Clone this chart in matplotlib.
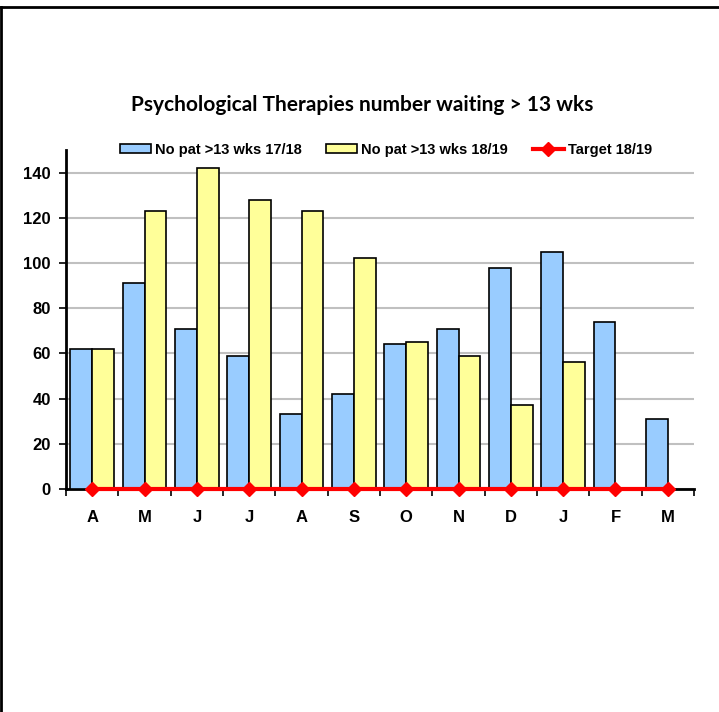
import matplotlib
matplotlib.use("Agg")
import matplotlib.pyplot as plt
from matplotlib import font_manager
from matplotlib.patches import Patch
from matplotlib.lines import Line2D
import numpy as np

months = ["A", "M", "J", "J", "A", "S", "O", "N", "D", "J", "F", "M"]
wait_1718 = [62, 91, 71, 59, 33, 42, 64, 71, 98, 105, 74, 31]
wait_1819 = [62, 123, 142, 128, 123, 102, 65, 59, 37, 56, np.nan, np.nan]
target_1819 = [0, 0, 0, 0, 0, 0, 0, 0, 0, 0, 0, 0]
yticks = [0, 20, 40, 60, 80, 100, 120, 140]

names = {f.name for f in font_manager.fontManager.ttflist}
narrow = "Liberation Sans Narrow" if "Liberation Sans Narrow" in names else "Liberation Sans"
title_font = "Lato" if "Lato" in names else "DejaVu Sans"

fig = plt.figure(figsize=(7.19, 7.12), dpi=100)
ax = fig.add_axes([66/719, 1-489/712, (694-66)/719, (489-150)/712])

x = np.arange(len(months))
w = 0.42
ax.bar(x - w/2, wait_1718, w, color="#99ccff", edgecolor="black", linewidth=1.2, zorder=3)
ax.bar(x + w/2, wait_1819, w, color="#ffff99", edgecolor="black", linewidth=1.2, zorder=3)
ax.plot(x, target_1819, color="#ff0000", lw=3, marker="D", markersize=7, zorder=5, clip_on=False)

ax.set_xlim(-0.5, len(months) - 0.5)
ax.set_ylim(0, 150)
ax.set_yticks(yticks)
ax.set_yticklabels([str(v) for v in yticks], fontfamily=narrow, fontweight="bold", fontsize=12)
ax.yaxis.grid(True, color="#c0c0c0", lw=1.5, zorder=0)
ax.set_axisbelow(True)

ax.set_xticks(x)
ax.set_xticklabels(months, fontfamily=narrow, fontweight="bold", fontsize=12)
ax.set_xticks(np.arange(-0.5, len(months)), minor=True)
ax.tick_params(axis="x", which="major", length=0, pad=15)
ax.tick_params(axis="x", which="minor", length=5, width=1.2, direction="out")
ax.tick_params(axis="y", length=5, width=1.2, direction="out", pad=6)

for s in ["top", "right"]:
    ax.spines[s].set_visible(False)
ax.spines["left"].set_linewidth(2)
ax.spines["bottom"].set_linewidth(2)

fig.text(362/719, 1-105/712, "Psychological Therapies number waiting > 13 wks",
         ha="center", va="center", fontfamily=title_font, fontweight="bold", fontsize=15)

handles = [Patch(facecolor="#99ccff", edgecolor="black", linewidth=1.2),
           Patch(facecolor="#ffff99", edgecolor="black", linewidth=1.2),
           Line2D([0], [0], color="#ff0000", lw=3, marker="D", markersize=7)]
labels = ["No pat >13 wks 17/18", "No pat >13 wks 18/19", "Target 18/19"]
fig.legend(handles, labels, loc="center", bbox_to_anchor=(386/719, 1-150/712), ncol=3,
           frameon=False, prop={"family": narrow, "weight": "bold", "size": 10.5},
           handlelength=2.1, handleheight=0.6, handletextpad=0.3, columnspacing=1.7)

fig.add_artist(Line2D([0.001, 0.998], [1-7/712, 1-7/712], color="black", lw=2, transform=fig.transFigure))
fig.add_artist(Line2D([0.002, 0.002], [0, 1-7/712], color="black", lw=2, transform=fig.transFigure))

fig.savefig("out.png", dpi=100)
